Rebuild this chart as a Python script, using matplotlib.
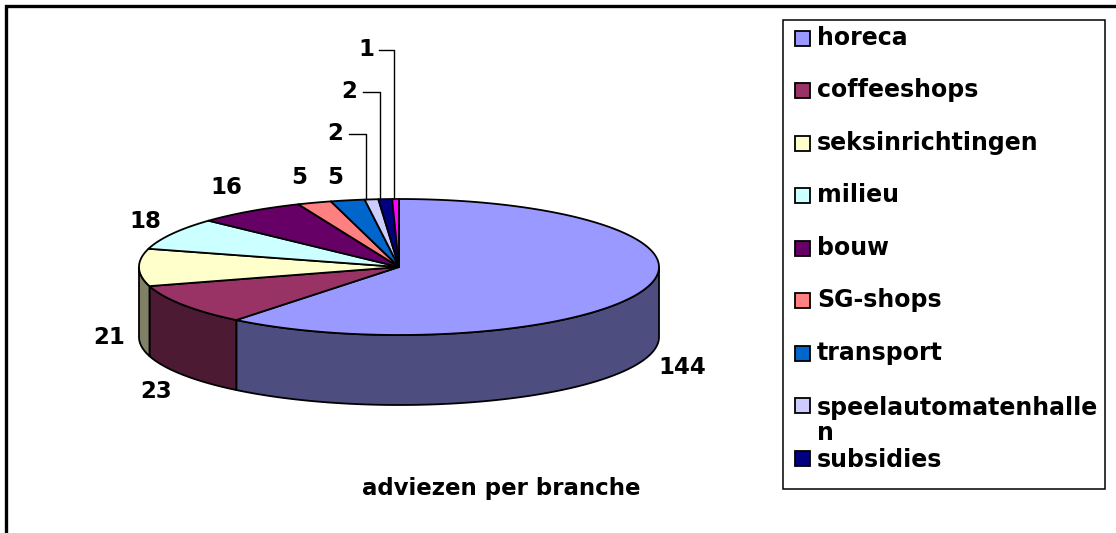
#!/usr/bin/env python3
"""
Pie chart of adviezen per branche, drawn as a flat 3D disc
"""

import numpy as np
import matplotlib
matplotlib.use('Agg')
import matplotlib.pyplot as plt
from matplotlib.patches import Polygon, Rectangle

# Data
categories = ['horeca', 'coffeeshops', 'seksinrichtingen', 'milieu', 'bouw',
              'SG-shops', 'transport', 'speelautomatenhalle\nn', 'subsidies']
values = [144, 23, 21, 18, 16, 5, 5, 2, 2, 1]
top_colors = ['#9999ff', '#993366', '#ffffcc', '#ccffff', '#660066',
              '#ff8080', '#0066cc', '#ccccff', '#000080', '#ff00ff']
side_colors = ['#4d4d80', '#4d1a33', '#808066', '#668080', '#330033',
               '#804040', '#003366', '#666680', '#000040', '#800080']
title = 'adviezen per branche'

# Layout in pixels
W, H = 1116, 533
CX, CY, RX, RY, DEPTH = 399, 267, 260, 68, 70
label_pos = [(682, 368), (156, 391), (109, 338), (145, 221), (226, 187),
             (299, 178), (335, 177), (335, 134), (349, 92), (366, 50)]
leaders = {7: (349, 134, 366), 8: (363, 92, 380), 9: (379, 50, 394)}
FONT = 'DejaVu Sans'
FS = 16.5


def rim(t):
    """Point on the top ellipse, t in degrees clockwise from 12 o'clock."""
    t = np.radians(t)
    return CX + RX * np.sin(t), CY - RY * np.cos(t)


fig = plt.figure(figsize=(W / 100, H / 100), dpi=100)
ax = fig.add_axes([0, 0, 1, 1])
ax.set_xlim(0, W)
ax.set_ylim(H, 0)
ax.axis('off')

# Frame: top and left only reach the picture
ax.plot([6, 6, W], [H, 6, 6], color='black', lw=2.4, solid_joinstyle='miter')

edges = np.concatenate([[0], np.cumsum(values)]) / sum(values) * 360

# Side faces, only the front half of the disc shows
for i in range(len(values)):
    a, b = max(edges[i], 90), min(edges[i + 1], 270)
    if b <= a:
        continue
    x, y = rim(np.linspace(a, b, 120))
    pts = np.column_stack([np.r_[x, x[::-1]], np.r_[y, y[::-1] + DEPTH]])
    ax.add_patch(Polygon(pts, closed=True, facecolor=side_colors[i],
                         edgecolor='black', lw=1.3, joinstyle='round'))

# Top faces
for i in range(len(values)):
    x, y = rim(np.linspace(edges[i], edges[i + 1], 200))
    pts = np.column_stack([np.r_[CX, x], np.r_[CY, y]])
    ax.add_patch(Polygon(pts, closed=True, facecolor=top_colors[i],
                         edgecolor='black', lw=1.3, joinstyle='round'))

# Value labels and leader lines
for i, (v, (lx, ly)) in enumerate(zip(values, label_pos)):
    ax.text(lx, ly, str(v), ha='center', va='center', family=FONT,
            fontweight='bold', fontsize=FS, color='black')
    if i in leaders:
        x0, yl, x1 = leaders[i]
        ax.plot([x0, x1, x1], [yl, yl, CY - RY], color='black', lw=1.0)

ax.text(501, 489, title, ha='center', va='center', family=FONT,
        fontweight='bold', fontsize=FS, color='black')

# Legend
ax.add_patch(Rectangle((783, 20), 322, 469, facecolor='white',
                       edgecolor='black', lw=1.1))
for i, name in enumerate(categories):
    ly = 38 + 52.5 * i
    ax.add_patch(Rectangle((795, ly - 7.5), 15, 15, facecolor=top_colors[i],
                           edgecolor='black', lw=1.3))
    if '\n' in name:
        # wrapped entry sits lower than its swatch, close to the next one
        ax.text(817, ly + 15, name, ha='left', va='center', family=FONT,
                fontweight='bold', fontsize=FS + 0.5, linespacing=1.08)
    elif i == len(categories) - 1:
        ax.text(817, ly + 2, name, ha='left', va='center', family=FONT,
                fontweight='bold', fontsize=FS + 0.5)
    else:
        ax.text(817, ly, name, ha='left', va='center', family=FONT,
                fontweight='bold', fontsize=FS + 0.5)

fig.savefig('out.png', dpi=100, facecolor='white')
plt.close(fig)
